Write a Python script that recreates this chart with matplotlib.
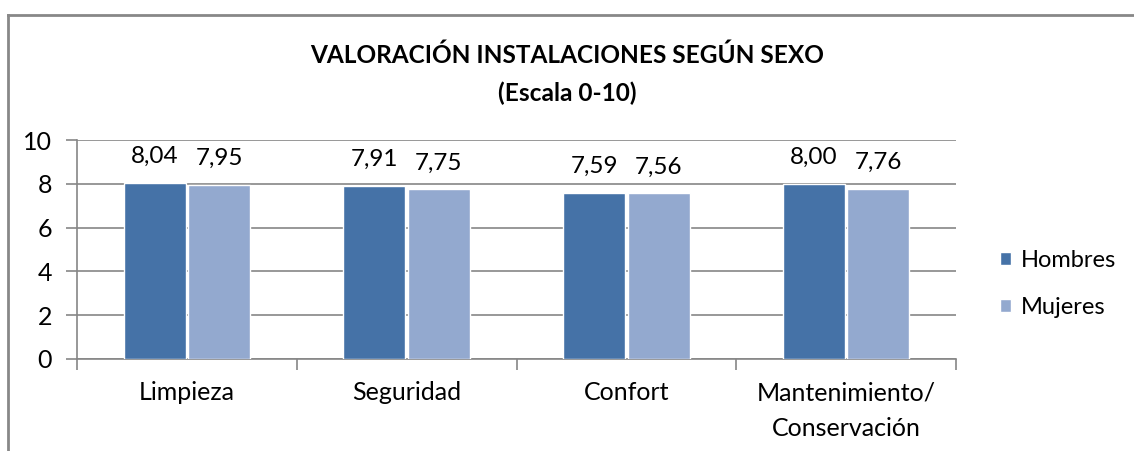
import numpy as np
import matplotlib
matplotlib.use('Agg')
import matplotlib.pyplot as plt
from matplotlib.lines import Line2D

plt.rcParams['font.family'] = ['Lato', 'DejaVu Sans']

# data
categorias = ['Limpieza', 'Seguridad', 'Confort', 'Mantenimiento/\nConservación']
hombres = [8.04, 7.91, 7.59, 8.00]
mujeres = [7.95, 7.75, 7.56, 7.76]
series_names = ['Hombres', 'Mujeres']
colores = ['#4572A7', '#93A9CF']

W, H = 1134, 451
fig = plt.figure(figsize=(W / 100, H / 100), dpi=100)
ax = fig.add_axes([77 / W, 1 - 359 / H, (956 - 77) / W, (359 - 140) / H])

x = np.arange(len(categorias))
bw = 0.282
gap = 0.006
b1 = ax.bar(x - bw / 2 - gap, hombres, bw, color=colores[0], edgecolor='white',
            linewidth=1.0, label=series_names[0], zorder=3)
b2 = ax.bar(x + bw / 2 + gap, mujeres, bw, color=colores[1], edgecolor='white',
            linewidth=1.0, label=series_names[1], zorder=3)

# value labels with comma decimals
for bars, vals in [(b1, hombres), (b2, mujeres)]:
    for rect, v in zip(bars, vals):
        ax.annotate(f'{v:.2f}'.replace('.', ','),
                    (rect.get_x() + rect.get_width() / 2, v),
                    xytext=(0, 19), textcoords='offset points',
                    ha='center', va='center', fontsize=17.5, color='black')

ax.set_xlim(-0.5, len(categorias) - 0.5)
ax.set_ylim(0, 10)
ax.set_yticks(range(0, 11, 2))
ax.yaxis.grid(True, color='#868686', linewidth=1.2, zorder=0)
ax.set_axisbelow(True)

ax.set_xticks(x)
ax.set_xticklabels(categorias, fontsize=18, linespacing=1.65)
ax.set_xticks(np.arange(-0.5, len(categorias), 1), minor=True)
ax.tick_params(axis='x', which='major', length=0, pad=16)
ax.tick_params(axis='x', which='minor', length=8, width=1.2, color='#868686')
ax.tick_params(axis='y', length=8, width=1.2, color='#868686', labelsize=18, pad=10)

for s in ['top', 'right']:
    ax.spines[s].set_visible(False)
for s in ['left', 'bottom']:
    ax.spines[s].set_color('#868686')
    ax.spines[s].set_linewidth(1.2)

fig.text(567 / W, 1 - 55 / H, 'VALORACIÓN INSTALACIONES SEGÚN SEXO',
         ha='center', va='center', fontsize=17.6, fontweight='bold')
fig.text(567 / W, 1 - 93 / H, '(Escala 0-10)',
         ha='center', va='center', fontsize=17.6, fontweight='bold')

leg = fig.legend(handles=[b1, b2], labels=series_names, loc='upper left',
                 bbox_to_anchor=(1000 / W, 1 - 250 / H), frameon=False,
                 borderpad=0, borderaxespad=0,
                 fontsize=17, handlelength=0.45, handleheight=0.45,
                 handletextpad=0.45, labelspacing=1.1)

# outer chart frame (cut off on right and bottom)
fig.add_artist(Line2D([7.5 / W, 1], [1 - 14.5 / H, 1 - 14.5 / H],
                      color='#888888', linewidth=2.0, transform=fig.transFigure))
fig.add_artist(Line2D([7.5 / W, 7.5 / W], [0, 1 - 14.5 / H],
                      color='#888888', linewidth=2.0, transform=fig.transFigure))

plt.savefig('out.png', dpi=100)
